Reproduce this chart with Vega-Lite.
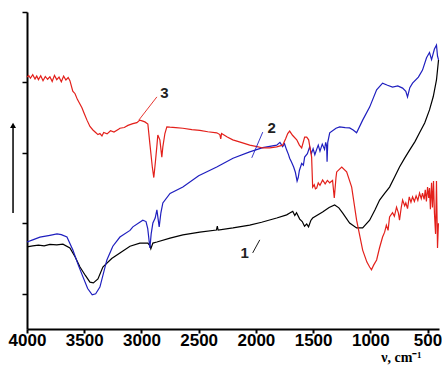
{
  "$schema": "https://vega.github.io/schema/vega-lite/v6.json",
  "width": 412,
  "height": 317,
  "autosize": {"type": "none"},
  "padding": {"left": 27, "top": 12, "right": 3, "bottom": 42},
  "background": "white",
  "config": {"view": {"stroke": null}},
  "datasets": {
    "spec": [
      {"s":"1","x":4000,"y":2.33},{"s":"1","x":3950,"y":2.36},{"s":"1","x":3900,"y":2.38},{"s":"1","x":3850,"y":2.36},{"s":"1","x":3800,"y":2.40},{"s":"1","x":3740,"y":2.39},{"s":"1","x":3686,"y":2.41},{"s":"1","x":3625,"y":2.30},{"s":"1","x":3580,"y":2.05},{"s":"1","x":3537,"y":1.76},{"s":"1","x":3490,"y":1.52},{"s":"1","x":3450,"y":1.33},{"s":"1","x":3420,"y":1.31},{"s":"1","x":3380,"y":1.42},{"s":"1","x":3337,"y":1.76},{"s":"1","x":3260,"y":2.00},{"s":"1","x":3188,"y":2.16},{"s":"1","x":3100,"y":2.35},{"s":"1","x":3014,"y":2.44},{"s":"1","x":2944,"y":2.44},{"s":"1","x":2925,"y":2.36},{"s":"1","x":2918,"y":2.28},{"s":"1","x":2900,"y":2.44},{"s":"1","x":2865,"y":2.47},{"s":"1","x":2750,"y":2.58},{"s":"1","x":2638,"y":2.67},{"s":"1","x":2490,"y":2.75},{"s":"1","x":2345,"y":2.81},{"s":"1","x":2337,"y":2.92},{"s":"1","x":2330,"y":2.81},{"s":"1","x":2200,"y":2.87},{"s":"1","x":2054,"y":2.95},{"s":"1","x":1950,"y":3.03},{"s":"1","x":1818,"y":3.15},{"s":"1","x":1731,"y":3.24},{"s":"1","x":1700,"y":3.30},{"s":"1","x":1678,"y":3.34},{"s":"1","x":1660,"y":3.22},{"s":"1","x":1645,"y":3.30},{"s":"1","x":1617,"y":3.12},{"s":"1","x":1595,"y":3.05},{"s":"1","x":1575,"y":2.92},{"s":"1","x":1556,"y":2.98},{"s":"1","x":1540,"y":2.90},{"s":"1","x":1520,"y":3.08},{"s":"1","x":1504,"y":3.15},{"s":"1","x":1417,"y":3.32},{"s":"1","x":1360,"y":3.45},{"s":"1","x":1312,"y":3.52},{"s":"1","x":1275,"y":3.44},{"s":"1","x":1241,"y":3.29},{"s":"1","x":1181,"y":3.01},{"s":"1","x":1120,"y":2.87},{"s":"1","x":1067,"y":2.87},{"s":"1","x":1006,"y":3.09},{"s":"1","x":960,"y":3.38},{"s":"1","x":919,"y":3.66},{"s":"1","x":875,"y":3.85},{"s":"1","x":832,"y":4.03},{"s":"1","x":790,"y":4.30},{"s":"1","x":745,"y":4.60},{"s":"1","x":700,"y":4.85},{"s":"1","x":657,"y":5.08},{"s":"1","x":610,"y":5.32},{"s":"1","x":570,"y":5.57},{"s":"1","x":525,"y":5.85},{"s":"1","x":483,"y":6.22},{"s":"1","x":450,"y":6.60},{"s":"1","x":422,"y":7.07},{"s":"1","x":404,"y":7.64},

      {"s":"2","x":4000,"y":2.47},{"s":"2","x":3950,"y":2.53},{"s":"2","x":3887,"y":2.61},{"s":"2","x":3800,"y":2.66},{"s":"2","x":3738,"y":2.70},{"s":"2","x":3700,"y":2.68},{"s":"2","x":3651,"y":2.61},{"s":"2","x":3599,"y":2.24},{"s":"2","x":3550,"y":1.80},{"s":"2","x":3511,"y":1.48},{"s":"2","x":3470,"y":1.15},{"s":"2","x":3430,"y":0.97},{"s":"2","x":3400,"y":1.00},{"s":"2","x":3363,"y":1.19},{"s":"2","x":3302,"y":1.96},{"s":"2","x":3250,"y":2.35},{"s":"2","x":3188,"y":2.61},{"s":"2","x":3100,"y":2.80},{"s":"2","x":3075,"y":2.90},{"s":"2","x":2988,"y":3.09},{"s":"2","x":2960,"y":3.05},{"s":"2","x":2945,"y":2.85},{"s":"2","x":2926,"y":2.30},{"s":"2","x":2915,"y":2.70},{"s":"2","x":2900,"y":3.01},{"s":"2","x":2880,"y":3.15},{"s":"2","x":2865,"y":3.38},{"s":"2","x":2845,"y":2.90},{"s":"2","x":2830,"y":3.30},{"s":"2","x":2813,"y":3.58},{"s":"2","x":2750,"y":3.85},{"s":"2","x":2638,"y":4.03},{"s":"2","x":2500,"y":4.35},{"s":"2","x":2342,"y":4.60},{"s":"2","x":2200,"y":4.85},{"s":"2","x":2054,"y":5.03},{"s":"2","x":1940,"y":5.15},{"s":"2","x":1818,"y":5.22},{"s":"2","x":1790,"y":5.30},{"s":"2","x":1766,"y":5.18},{"s":"2","x":1750,"y":5.26},{"s":"2","x":1731,"y":5.08},{"s":"2","x":1715,"y":4.95},{"s":"2","x":1705,"y":4.85},{"s":"2","x":1690,"y":4.75},{"s":"2","x":1670,"y":4.60},{"s":"2","x":1655,"y":4.45},{"s":"2","x":1640,"y":4.20},{"s":"2","x":1630,"y":4.30},{"s":"2","x":1620,"y":4.50},{"s":"2","x":1600,"y":4.70},{"s":"2","x":1585,"y":4.65},{"s":"2","x":1574,"y":4.88},{"s":"2","x":1550,"y":4.98},{"s":"2","x":1530,"y":5.17},{"s":"2","x":1515,"y":4.98},{"s":"2","x":1500,"y":5.12},{"s":"2","x":1485,"y":4.95},{"s":"2","x":1469,"y":5.10},{"s":"2","x":1455,"y":5.22},{"s":"2","x":1440,"y":5.05},{"s":"2","x":1420,"y":5.25},{"s":"2","x":1400,"y":5.10},{"s":"2","x":1390,"y":5.30},{"s":"2","x":1382,"y":5.20},{"s":"2","x":1378,"y":4.75},{"s":"2","x":1372,"y":5.30},{"s":"2","x":1355,"y":5.57},{"s":"2","x":1300,"y":5.70},{"s":"2","x":1268,"y":5.74},{"s":"2","x":1220,"y":5.72},{"s":"2","x":1181,"y":5.71},{"s":"2","x":1150,"y":5.65},{"s":"2","x":1120,"y":5.57},{"s":"2","x":1067,"y":5.93},{"s":"2","x":1006,"y":6.30},{"s":"2","x":945,"y":6.79},{"s":"2","x":893,"y":6.98},{"s":"2","x":850,"y":6.92},{"s":"2","x":806,"y":6.87},{"s":"2","x":760,"y":6.90},{"s":"2","x":718,"y":6.84},{"s":"2","x":690,"y":6.75},{"s":"2","x":675,"y":6.59},{"s":"2","x":655,"y":6.85},{"s":"2","x":631,"y":6.98},{"s":"2","x":580,"y":7.15},{"s":"2","x":544,"y":7.35},{"s":"2","x":509,"y":7.70},{"s":"2","x":483,"y":7.85},{"s":"2","x":465,"y":7.65},{"s":"2","x":440,"y":7.95},{"s":"2","x":422,"y":8.06},{"s":"2","x":413,"y":7.75},{"s":"2","x":404,"y":7.64},

      {"s":"3","x":4000,"y":7.15},{"s":"3","x":3985,"y":7.20},{"s":"3","x":3970,"y":7.12},{"s":"3","x":3950,"y":7.22},{"s":"3","x":3930,"y":7.10},{"s":"3","x":3915,"y":7.18},{"s":"3","x":3900,"y":7.08},{"s":"3","x":3880,"y":7.19},{"s":"3","x":3860,"y":7.05},{"s":"3","x":3840,"y":7.17},{"s":"3","x":3820,"y":7.09},{"s":"3","x":3800,"y":7.16},{"s":"3","x":3780,"y":7.03},{"s":"3","x":3760,"y":7.20},{"s":"3","x":3740,"y":7.08},{"s":"3","x":3720,"y":7.15},{"s":"3","x":3700,"y":7.02},{"s":"3","x":3680,"y":7.18},{"s":"3","x":3660,"y":7.07},{"s":"3","x":3640,"y":7.14},{"s":"3","x":3625,"y":7.05},{"s":"3","x":3600,"y":6.75},{"s":"3","x":3580,"y":6.68},{"s":"3","x":3560,"y":6.52},{"s":"3","x":3540,"y":6.40},{"s":"3","x":3520,"y":6.28},{"s":"3","x":3500,"y":6.12},{"s":"3","x":3476,"y":5.93},{"s":"3","x":3450,"y":5.75},{"s":"3","x":3424,"y":5.65},{"s":"3","x":3400,"y":5.58},{"s":"3","x":3380,"y":5.52},{"s":"3","x":3363,"y":5.55},{"s":"3","x":3345,"y":5.48},{"s":"3","x":3330,"y":5.58},{"s":"3","x":3300,"y":5.54},{"s":"3","x":3270,"y":5.63},{"s":"3","x":3240,"y":5.59},{"s":"3","x":3200,"y":5.67},{"s":"3","x":3188,"y":5.70},{"s":"3","x":3150,"y":5.72},{"s":"3","x":3118,"y":5.78},{"s":"3","x":3075,"y":5.83},{"s":"3","x":3040,"y":5.86},{"s":"3","x":3014,"y":5.93},{"s":"3","x":2988,"y":5.90},{"s":"3","x":2970,"y":5.88},{"s":"3","x":2944,"y":5.82},{"s":"3","x":2926,"y":5.25},{"s":"3","x":2905,"y":4.60},{"s":"3","x":2892,"y":4.30},{"s":"3","x":2878,"y":4.75},{"s":"3","x":2865,"y":5.20},{"s":"3","x":2857,"y":5.51},{"s":"3","x":2839,"y":5.37},{"s":"3","x":2822,"y":4.88},{"s":"3","x":2813,"y":5.17},{"s":"3","x":2795,"y":5.55},{"s":"3","x":2778,"y":5.74},{"s":"3","x":2752,"y":5.73},{"s":"3","x":2700,"y":5.72},{"s":"3","x":2638,"y":5.70},{"s":"3","x":2560,"y":5.66},{"s":"3","x":2490,"y":5.64},{"s":"3","x":2420,"y":5.60},{"s":"3","x":2342,"y":5.57},{"s":"3","x":2315,"y":5.52},{"s":"3","x":2307,"y":5.40},{"s":"3","x":2300,"y":5.55},{"s":"3","x":2250,"y":5.45},{"s":"3","x":2202,"y":5.37},{"s":"3","x":2130,"y":5.30},{"s":"3","x":2054,"y":5.22},{"s":"3","x":1990,"y":5.18},{"s":"3","x":1940,"y":5.14},{"s":"3","x":1879,"y":5.14},{"s":"3","x":1818,"y":5.17},{"s":"3","x":1766,"y":5.22},{"s":"3","x":1740,"y":5.40},{"s":"3","x":1722,"y":5.55},{"s":"3","x":1705,"y":5.62},{"s":"3","x":1680,"y":5.50},{"s":"3","x":1643,"y":5.37},{"s":"3","x":1620,"y":5.22},{"s":"3","x":1600,"y":5.14},{"s":"3","x":1574,"y":5.45},{"s":"3","x":1556,"y":5.45},{"s":"3","x":1539,"y":5.37},{"s":"3","x":1513,"y":4.88},{"s":"3","x":1504,"y":4.03},{"s":"3","x":1490,"y":4.10},{"s":"3","x":1480,"y":3.98},{"s":"3","x":1469,"y":4.00},{"s":"3","x":1455,"y":4.15},{"s":"3","x":1440,"y":4.08},{"s":"3","x":1417,"y":4.23},{"s":"3","x":1395,"y":4.12},{"s":"3","x":1375,"y":4.22},{"s":"3","x":1355,"y":4.15},{"s":"3","x":1330,"y":4.22},{"s":"3","x":1315,"y":3.72},{"s":"3","x":1300,"y":4.30},{"s":"3","x":1294,"y":4.46},{"s":"3","x":1250,"y":4.60},{"s":"3","x":1207,"y":4.46},{"s":"3","x":1163,"y":4.03},{"s":"3","x":1120,"y":3.09},{"s":"3","x":1067,"y":2.24},{"s":"3","x":1030,"y":1.90},{"s":"3","x":1006,"y":1.76},{"s":"3","x":990,"y":1.68},{"s":"3","x":970,"y":1.82},{"s":"3","x":945,"y":1.96},{"s":"3","x":920,"y":2.30},{"s":"3","x":893,"y":2.61},{"s":"3","x":875,"y":2.75},{"s":"3","x":860,"y":2.95},{"s":"3","x":845,"y":2.80},{"s":"3","x":832,"y":3.18},{"s":"3","x":806,"y":3.30},{"s":"3","x":790,"y":3.20},{"s":"3","x":771,"y":3.46},{"s":"3","x":755,"y":3.30},{"s":"3","x":745,"y":3.09},{"s":"3","x":730,"y":3.45},{"s":"3","x":718,"y":3.66},{"s":"3","x":700,"y":3.50},{"s":"3","x":690,"y":3.58},{"s":"3","x":675,"y":3.42},{"s":"3","x":660,"y":3.75},{"s":"3","x":645,"y":3.60},{"s":"3","x":631,"y":3.75},{"s":"3","x":615,"y":3.62},{"s":"3","x":600,"y":3.78},{"s":"3","x":585,"y":3.65},{"s":"3","x":570,"y":3.86},{"s":"3","x":555,"y":3.70},{"s":"3","x":544,"y":3.86},{"s":"3","x":530,"y":3.68},{"s":"3","x":520,"y":3.95},{"s":"3","x":510,"y":3.62},{"s":"3","x":500,"y":4.03},{"s":"3","x":490,"y":3.72},{"s":"3","x":483,"y":4.00},{"s":"3","x":475,"y":3.40},{"s":"3","x":465,"y":4.15},{"s":"3","x":457,"y":3.45},{"s":"3","x":448,"y":4.20},{"s":"3","x":440,"y":3.30},{"s":"3","x":430,"y":2.70},{"s":"3","x":422,"y":4.20},{"s":"3","x":413,"y":2.30},{"s":"3","x":405,"y":3.00}
    ],
    "labels": [
      {"t":"1","x":2097,"y":2.16,"c":"1"},
      {"t":"2","x":1862,"y":5.71,"c":"2"},
      {"t":"3","x":2800,"y":6.70,"c":"3"}
    ],
    "leaders": [
      {"c":"1","x":1966,"y":2.53,"x2":2028,"y2":2.16},
      {"c":"2","x":1940,"y":5.59,"x2":2036,"y2":4.86},
      {"c":"3","x":2865,"y":6.59,"x2":3023,"y2":5.93}
    ],
    "arrow": [{"x":4122,"y":3.29,"y2":5.75,"top":5.78}]
  },
  "layer": [
    {
      "data": {"name": "spec"},
      "mark": {"type": "line", "strokeWidth": 1.2},
      "encoding": {
        "x": {"field": "x", "type": "quantitative",
              "scale": {"domain": [400, 4000], "reverse": true, "nice": false, "zero": false},
              "axis": {"values": [4000,3500,3000,2500,2000,1500,1000,500], "format": "d",
                       "title": "ν, cm⁻¹", "titleFont": "Liberation Serif", "titleFontSize": 14, "titleFontWeight": "bold",
                       "titleAnchor": "end", "titleAlign": "right", "titleBaseline": "alphabetic", "titleX": 394, "titleY": 32,
                       "labelFont": "Liberation Sans", "labelFontSize": 17, "labelFontWeight": "bold", "labelColor": "black",
                       "labelPadding": -1, "tickSize": 4, "tickWidth": 2, "tickColor": "black",
                       "domainColor": "black", "domainWidth": 2, "labelOverlap": false, "labelFlush": false, "grid": false}},
        "y": {"field": "y", "type": "quantitative",
              "scale": {"domain": [0, 9], "nice": false, "zero": false},
              "axis": {"values": [1,2,3,4,5,6,7,8,9], "labels": false, "title": null, "tickSize": 5, "tickWidth": 1.5,
                       "tickColor": "black", "domainColor": "black", "domainWidth": 2, "grid": false}},
        "color": {"field": "s", "type": "nominal",
                  "scale": {"domain": ["1","2","3"], "range": ["#000000", "#1f1fbf", "#e3201b"]}, "legend": null},
        "order": {"field": "x", "type": "quantitative", "sort": "descending"}
      }
    },
    {
      "data": {"name": "leaders"},
      "mark": {"type": "rule", "strokeWidth": 0.9},
      "encoding": {
        "x": {"field": "x", "type": "quantitative"},
        "y": {"field": "y", "type": "quantitative"},
        "x2": {"field": "x2"},
        "y2": {"field": "y2"},
        "color": {"field": "c", "type": "nominal", "scale": {"domain": ["1","2","3"], "range": ["#000000", "#1f1fbf", "#c07a6a"]}, "legend": null}
      }
    },
    {
      "data": {"name": "labels"},
      "mark": {"type": "text", "font": "Liberation Sans", "fontSize": 15, "fontWeight": "bold", "color": "#222222", "align": "center", "baseline": "middle"},
      "encoding": {
        "x": {"field": "x", "type": "quantitative"},
        "y": {"field": "y", "type": "quantitative"},
        "text": {"field": "t"}
      }
    },
    {
      "data": {"name": "arrow"},
      "mark": {"type": "rule", "strokeWidth": 1.5, "color": "black"},
      "encoding": {
        "x": {"field": "x", "type": "quantitative"},
        "y": {"field": "y", "type": "quantitative"},
        "y2": {"field": "y2"}
      }
    },
    {
      "data": {"name": "arrow"},
      "mark": {"type": "point", "shape": "triangle-up", "filled": true, "size": 35, "color": "black", "opacity": 1},
      "encoding": {
        "x": {"field": "x", "type": "quantitative"},
        "y": {"field": "top", "type": "quantitative"}
      }
    }
  ]
}
